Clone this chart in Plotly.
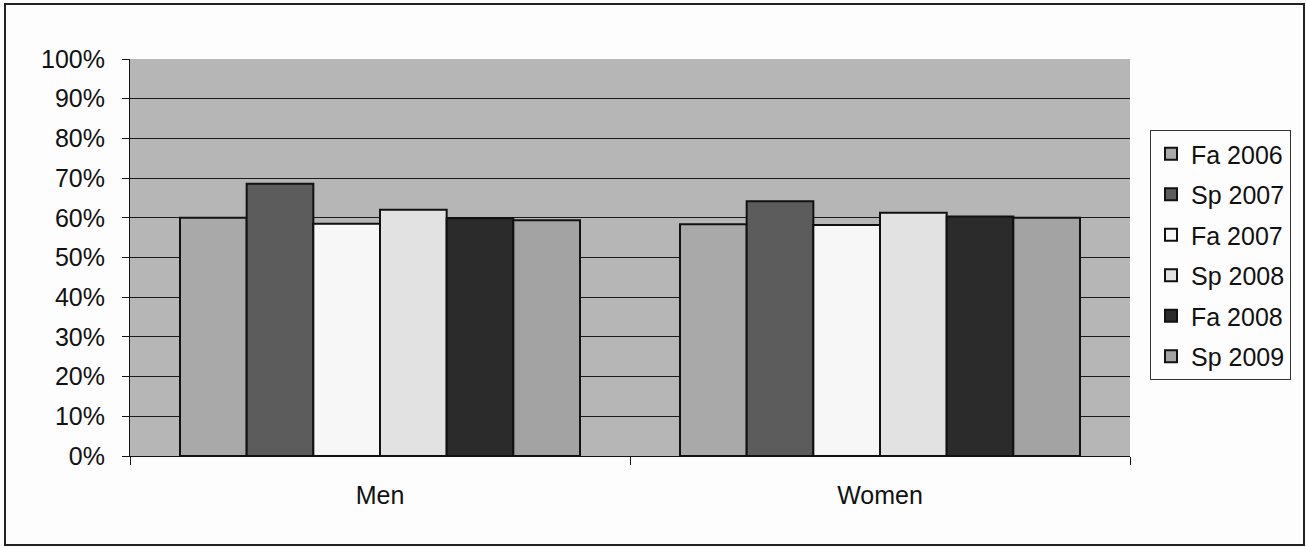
import plotly.graph_objects as go

# Share of students per group, by term
categories = ["Men", "Women"]
terms = ["Fa 2006", "Sp 2007", "Fa 2007", "Sp 2008", "Fa 2008", "Sp 2009"]
fa_2006 = [0.600, 0.584]
sp_2007 = [0.686, 0.642]
fa_2007 = [0.585, 0.582]
sp_2008 = [0.620, 0.613]
fa_2008 = [0.599, 0.603]
sp_2009 = [0.594, 0.600]
y_ticks = [0, 0.1, 0.2, 0.3, 0.4, 0.5, 0.6, 0.7, 0.8, 0.9, 1.0]

series = [fa_2006, sp_2007, fa_2007, sp_2008, fa_2008, sp_2009]
fills = ["#a9a9a9", "#5c5c5c", "#f7f7f7", "#e2e2e2", "#2b2b2b", "#a3a3a3"]

FONT = "Liberation Sans, Arial, sans-serif"

fig = go.Figure()
for i, (name, vals, col) in enumerate(zip(terms, series, fills)):
    fig.add_trace(go.Bar(
        x=categories, y=vals, name=name,
        legendgroup=f"g{i}",
        marker=dict(color=col, line=dict(color="#111111", width=2)),
    ))

W, H = 1306, 548
L, R, T, B = 130, 176, 59, 92
pw, ph = W - L - R, H - T - B

def px_x(v):
    return (v - L) / pw

def px_y(v):
    return (H - B - v) / ph

fig.update_layout(
    width=W, height=H,
    margin=dict(l=L, r=R, t=T, b=B),
    paper_bgcolor="#fdfdfd",
    plot_bgcolor="#b6b6b6",
    barmode="group",
    bargap=0.2,
    bargroupgap=0,
    font=dict(family=FONT, size=25, color="#111111"),
    showlegend=True,
    legend=dict(
        x=px_x(1150), y=px_y(255), xanchor="left", yanchor="middle",
        bgcolor="#fdfdfd", bordercolor="#333333", borderwidth=1,
        font=dict(family=FONT, size=25, color="#111111"),
        traceorder="grouped", tracegroupgap=5,
        itemwidth=30,
    ),
    xaxis=dict(
        showline=True, linecolor="#111111", linewidth=1,
        ticks="outside", tickson="boundaries", ticklen=8, tickcolor="#111111",
        tickfont=dict(size=25), showgrid=False, ticklabelstandoff=17,
    ),
    yaxis=dict(
        range=[0, 1], tickvals=y_ticks, tickformat=".0%",
        showline=True, linecolor="#111111", linewidth=1,
        ticks="outside", ticklen=7, tickcolor="#111111",
        showgrid=True, gridcolor="#1a1a1a", gridwidth=1,
        zeroline=False, tickfont=dict(size=25), ticklabelstandoff=12,
    ),
    shapes=[
        dict(type="rect", xref="paper", yref="paper",
             x0=px_x(5), x1=px_x(1304), y0=px_y(545), y1=px_y(4),
             line=dict(color="#222222", width=2), fillcolor="rgba(0,0,0,0)",
             layer="below"),
    ],
)

fig.write_html("out.html")
